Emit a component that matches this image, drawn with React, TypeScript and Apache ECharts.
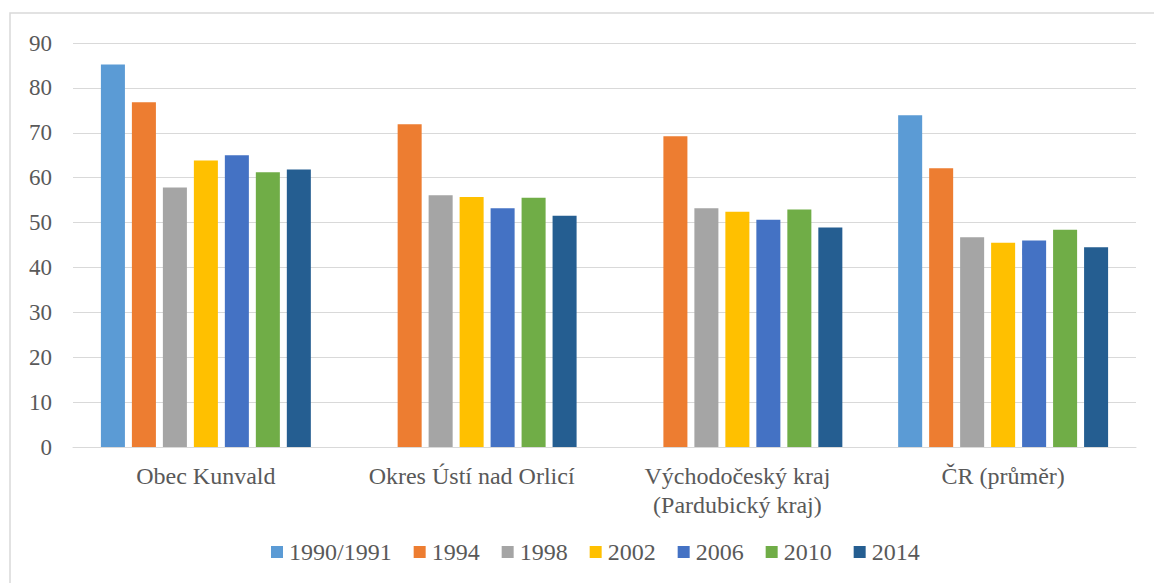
import React, { useEffect, useRef } from "react";
import * as echarts from "echarts";

const categories = ["Obec Kunvald", "Okres Ústí nad Orlicí", "Východočeský kraj\n(Pardubický kraj)", "ČR (průměr)"];
const seriesNames = ["1990/1991", "1994", "1998", "2002", "2006", "2010", "2014"];
const v1990 = [85.2, null, null, 73.9];
const v1994 = [76.8, 71.9, 69.2, 62.1];
const v1998 = [57.8, 56.1, 53.2, 46.7];
const v2002 = [63.8, 55.7, 52.4, 45.5];
const v2006 = [65.0, 53.2, 50.6, 46.0];
const v2010 = [61.2, 55.5, 52.9, 48.4];
const v2014 = [61.8, 51.5, 48.9, 44.5];
const seriesValues = [v1990, v1994, v1998, v2002, v2006, v2010, v2014];
const colors = ["#5B9BD5", "#ED7D31", "#A5A5A5", "#FFC000", "#4472C4", "#70AD47", "#255E91"];

const FONT = "Liberation Serif";

export default function App() {
  const ref = useRef<HTMLDivElement>(null);
  useEffect(() => {
    const chart = echarts.init(ref.current!, undefined, { renderer: "svg" });
    chart.setOption({
      animation: false,
      color: colors,
      textStyle: { fontFamily: FONT, color: "#595959" },
      graphic: [
        {
          type: "rect",
          shape: { x: 10, y: 13, width: 1180, height: 620 },
          style: { fill: "none", stroke: "#d9d9d9", lineWidth: 1.5 },
          silent: true,
        },
      ],
      grid: { left: 73, right: 18, top: 43, bottom: 136, containLabel: false },
      legend: {
        data: seriesNames,
        bottom: 14,
        left: 266,
        icon: "rect",
        itemWidth: 12,
        itemHeight: 12,
        itemGap: 22,
        textStyle: { fontFamily: FONT, fontSize: 24, color: "#595959", padding: [0, 0, 0, 1] },
      },
      xAxis: {
        type: "category",
        data: categories,
        axisLine: { lineStyle: { color: "#d9d9d9", width: 1 } },
        axisTick: { show: false },
        axisLabel: {
          interval: 0,
          fontFamily: FONT,
          fontSize: 24,
          color: "#595959",
          lineHeight: 29,
          margin: 14,
        },
      },
      yAxis: {
        type: "value",
        min: 0,
        max: 90,
        interval: 10,
        axisLine: { show: false },
        axisTick: { show: false },
        splitLine: { lineStyle: { color: "#d9d9d9", width: 1 } },
        axisLabel: { fontFamily: FONT, fontSize: 23, color: "#595959", margin: 21 },
      },
      series: seriesNames.map((name, i) => ({
        name,
        type: "bar",
        data: seriesValues[i],
        barGap: "29%",
        barCategoryGap: "21%",
        itemStyle: { color: colors[i] },
      })),
    });
    return () => chart.dispose();
  }, []);
  return (
    <div
      ref={ref}
      style={{ position: "fixed", left: 0, top: 0, width: 1154, height: 583, background: "#fff" }}
    />
  );
}
